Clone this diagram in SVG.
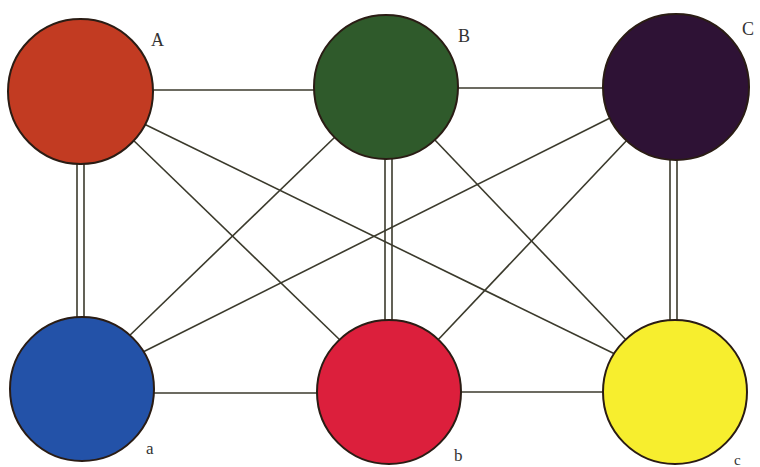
<svg xmlns="http://www.w3.org/2000/svg" width="760" height="467" viewBox="0 0 760 467">
<style>
.ln{stroke:#3b3a2c;stroke-width:1.6;fill:none}
.nd{stroke:#2a1c14;stroke-width:2}
.lb{font-family:"Liberation Serif","DejaVu Serif",serif;fill:#333}
</style>
<rect width="760" height="467" fill="#ffffff"/>
<g id="connectors">
<line class="ln" x1="148" y1="90" x2="320" y2="90"/>
<line class="ln" x1="452" y1="88" x2="610" y2="88"/>
<line class="ln" x1="150" y1="393" x2="322" y2="393"/>
<line class="ln" x1="456" y1="392" x2="608" y2="392"/>
<line class="ln" x1="77" y1="158" x2="77" y2="324"/>
<line class="ln" x1="84" y1="158" x2="84" y2="324"/>
<line class="ln" x1="385" y1="155" x2="385" y2="325"/>
<line class="ln" x1="392" y1="155" x2="392" y2="325"/>
<line class="ln" x1="670" y1="155" x2="670" y2="325"/>
<line class="ln" x1="677" y1="155" x2="677" y2="325"/>
<line class="ln" x1="130" y1="137" x2="341" y2="341"/>
<line class="ln" x1="140" y1="122" x2="619" y2="356"/>
<line class="ln" x1="336" y1="136" x2="126" y2="339"/>
<line class="ln" x1="433" y1="138" x2="629" y2="343"/>
<line class="ln" x1="618" y1="114" x2="137" y2="355"/>
<line class="ln" x1="629" y1="138" x2="436" y2="342"/>
</g>
<g id="node-A"><circle class="nd" cx="80.5" cy="91.5" r="72.5" fill="#c23b22"/><text class="lb" x="151" y="46" font-size="18">A</text></g>
<g id="node-B"><circle class="nd" cx="386" cy="87" r="72" fill="#2f5a2b"/><text class="lb" x="458" y="42" font-size="18">B</text></g>
<g id="node-C"><circle class="nd" cx="676" cy="87" r="73" fill="#2e1235"/><text class="lb" x="742" y="35" font-size="18">C</text></g>
<g id="node-a"><circle class="nd" cx="82" cy="389" r="72" fill="#2352a8"/><text class="lb" x="146" y="454" font-size="17">a</text></g>
<g id="node-b"><circle class="nd" cx="389" cy="392" r="72" fill="#dc1f3c"/><text class="lb" x="454" y="461" font-size="17">b</text></g>
<g id="node-c"><circle class="nd" cx="675" cy="392" r="72" fill="#f7ee2e"/><text class="lb" x="734" y="465" font-size="15">c</text></g>
</svg>
